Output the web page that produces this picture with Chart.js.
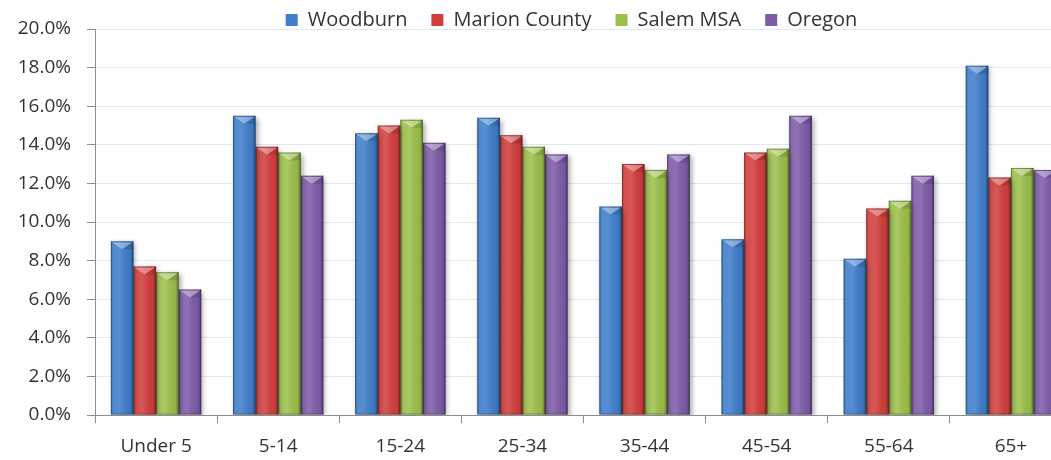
<!DOCTYPE html>
<html>
<head>
<meta charset="utf-8">
<script src="https://cdn.jsdelivr.net/npm/chart.js@4/dist/chart.umd.min.js"></script>
<style>
  html, body { margin: 0; padding: 0; background: #fff; overflow: hidden; }
  #wrap { width: 1075px; height: 460px; }
</style>
</head>
<body>
<div id="wrap"><canvas id="ageChart" width="1075" height="460"></canvas></div>
<script>
// age groups and share of population in each (percent)
const ageGroups = ['Under 5', '5-14', '15-24', '25-34', '35-44', '45-54', '55-64', '65+'];
const woodburn = [9.0, 15.5, 14.6, 15.4, 10.8, 9.1, 8.1, 18.1];
const marionCounty = [7.7, 13.9, 15.0, 14.5, 13.0, 13.6, 10.7, 12.3];
const salemMSA = [7.4, 13.6, 15.3, 13.9, 12.7, 13.8, 11.1, 12.8];
const oregon = [6.5, 12.4, 14.1, 13.5, 13.5, 15.5, 12.4, 12.7];
const yTicks = [0, 2, 4, 6, 8, 10, 12, 14, 16, 18, 20];

const fontName = "'Open Sans', 'DejaVu Sans', sans-serif";

// shadow under the bars + a little bevel on top, like the office chart
const bevelPlugin = {
    id: 'bevel',
    beforeInit(chart) {
        const legend = chart.legend;
        const origFit = legend.fit;
        legend.fit = function() {
            origFit.call(this);
            this.height = 29;
        };
        // legend items sit lower because of the label padding, pull them up
        const origDraw = legend.draw;
        legend.draw = function() {
            const ctx = this.ctx;
            const b = this.bottom;
            this.bottom = b + 40;
            ctx.save();
            ctx.translate(-12, -14);
            origDraw.call(this);
            ctx.restore();
            this.bottom = b;
        };
    },
    beforeDatasetsDraw(chart) {
        const ctx = chart.ctx;
        ctx.save();
        ctx.shadowColor = 'rgba(0,0,0,0.35)';
        ctx.shadowBlur = 5;
        ctx.shadowOffsetX = 2;
        ctx.shadowOffsetY = 2;
    },
    afterDatasetsDraw(chart) {
        const ctx = chart.ctx;
        ctx.restore();
        chart.data.datasets.forEach(function(ds, i) {
            const meta = chart.getDatasetMeta(i);
            meta.data.forEach(function(bar) {
                const w = bar.width;
                const left = bar.x - w / 2;
                const top = bar.y;
                const h = bar.base - bar.y;
                // side shading
                const g = ctx.createLinearGradient(left, 0, left + w, 0);
                g.addColorStop(0, 'rgba(0,0,0,0.18)');
                g.addColorStop(0.12, 'rgba(255,255,255,0.10)');
                g.addColorStop(0.4, 'rgba(255,255,255,0.12)');
                g.addColorStop(0.85, 'rgba(0,0,0,0.05)');
                g.addColorStop(1, 'rgba(0,0,0,0.35)');
                ctx.fillStyle = g;
                ctx.fillRect(left, top, w, h);
                // top bevel triangle
                const bh = Math.min(8, h / 2);
                ctx.fillStyle = 'rgba(255,255,255,0.35)';
                ctx.beginPath();
                ctx.moveTo(left + 1, top + 1);
                ctx.lineTo(left + w - 1, top + 1);
                ctx.lineTo(left + w / 2, top + bh);
                ctx.closePath();
                ctx.fill();
                ctx.fillStyle = 'rgba(0,0,0,0.12)';
                ctx.beginPath();
                ctx.moveTo(left + w - 1, top + 1);
                ctx.lineTo(left + w - 1, top + bh);
                ctx.lineTo(left + w / 2, top + bh);
                ctx.closePath();
                ctx.fill();
                ctx.strokeStyle = 'rgba(0,0,0,0.25)';
                ctx.lineWidth = 1;
                ctx.strokeRect(left + 0.5, top + 0.5, w - 1, h - 1);
            });
        });
    }
};

const ctx = document.getElementById('ageChart').getContext('2d');
const ageChart = new Chart(ctx, {
    type: 'bar',
    data: {
        labels: ageGroups,
        datasets: [
            { label: 'Woodburn', data: woodburn, backgroundColor: '#3f7ecb' },
            { label: 'Marion County', data: marionCounty, backgroundColor: '#d23f3d' },
            { label: 'Salem MSA', data: salemMSA, backgroundColor: '#9cc14b' },
            { label: 'Oregon', data: oregon, backgroundColor: '#7f5caa' }
        ]
    },
    options: {
        responsive: false,
        animation: false,
        layout: { padding: { left: 0, right: 3, top: 0, bottom: 0 } },
        datasets: {
            bar: { categoryPercentage: 0.74, barPercentage: 1.0, borderWidth: 0 }
        },
        plugins: {
            legend: {
                position: 'top',
                fullSize: false,
                labels: {
                    boxWidth: 12,
                    boxHeight: 12,
                    padding: 24,
                    color: '#333',
                    font: { family: fontName, size: 20 }
                }
            },
            tooltip: { enabled: false }
        },
        scales: {
            x: {
                grid: { display: true, drawOnChartArea: false, tickColor: '#8c8c8c', tickLength: 8, offset: true },
                border: { color: '#8c8c8c' },
                ticks: { color: '#333', padding: 12, font: { family: fontName, size: 19 } },
                afterFit(scale) { scale.height = 45; }
            },
            y: {
                min: 0,
                max: 20,
                afterBuildTicks(scale) { scale.ticks = yTicks.map(v => ({ value: v })); },
                grid: { color: '#dfe7f1', tickColor: '#8c8c8c', tickLength: 8 },
                border: { color: '#8c8c8c' },
                ticks: {
                    color: '#333',
                    padding: 16,
                    font: { family: fontName, size: 19 },
                    callback: v => v.toFixed(1) + '%'
                },
                afterFit(scale) { scale.width = 95; }
            }
        }
    },
    plugins: [bevelPlugin]
});
</script>
</body>
</html>
